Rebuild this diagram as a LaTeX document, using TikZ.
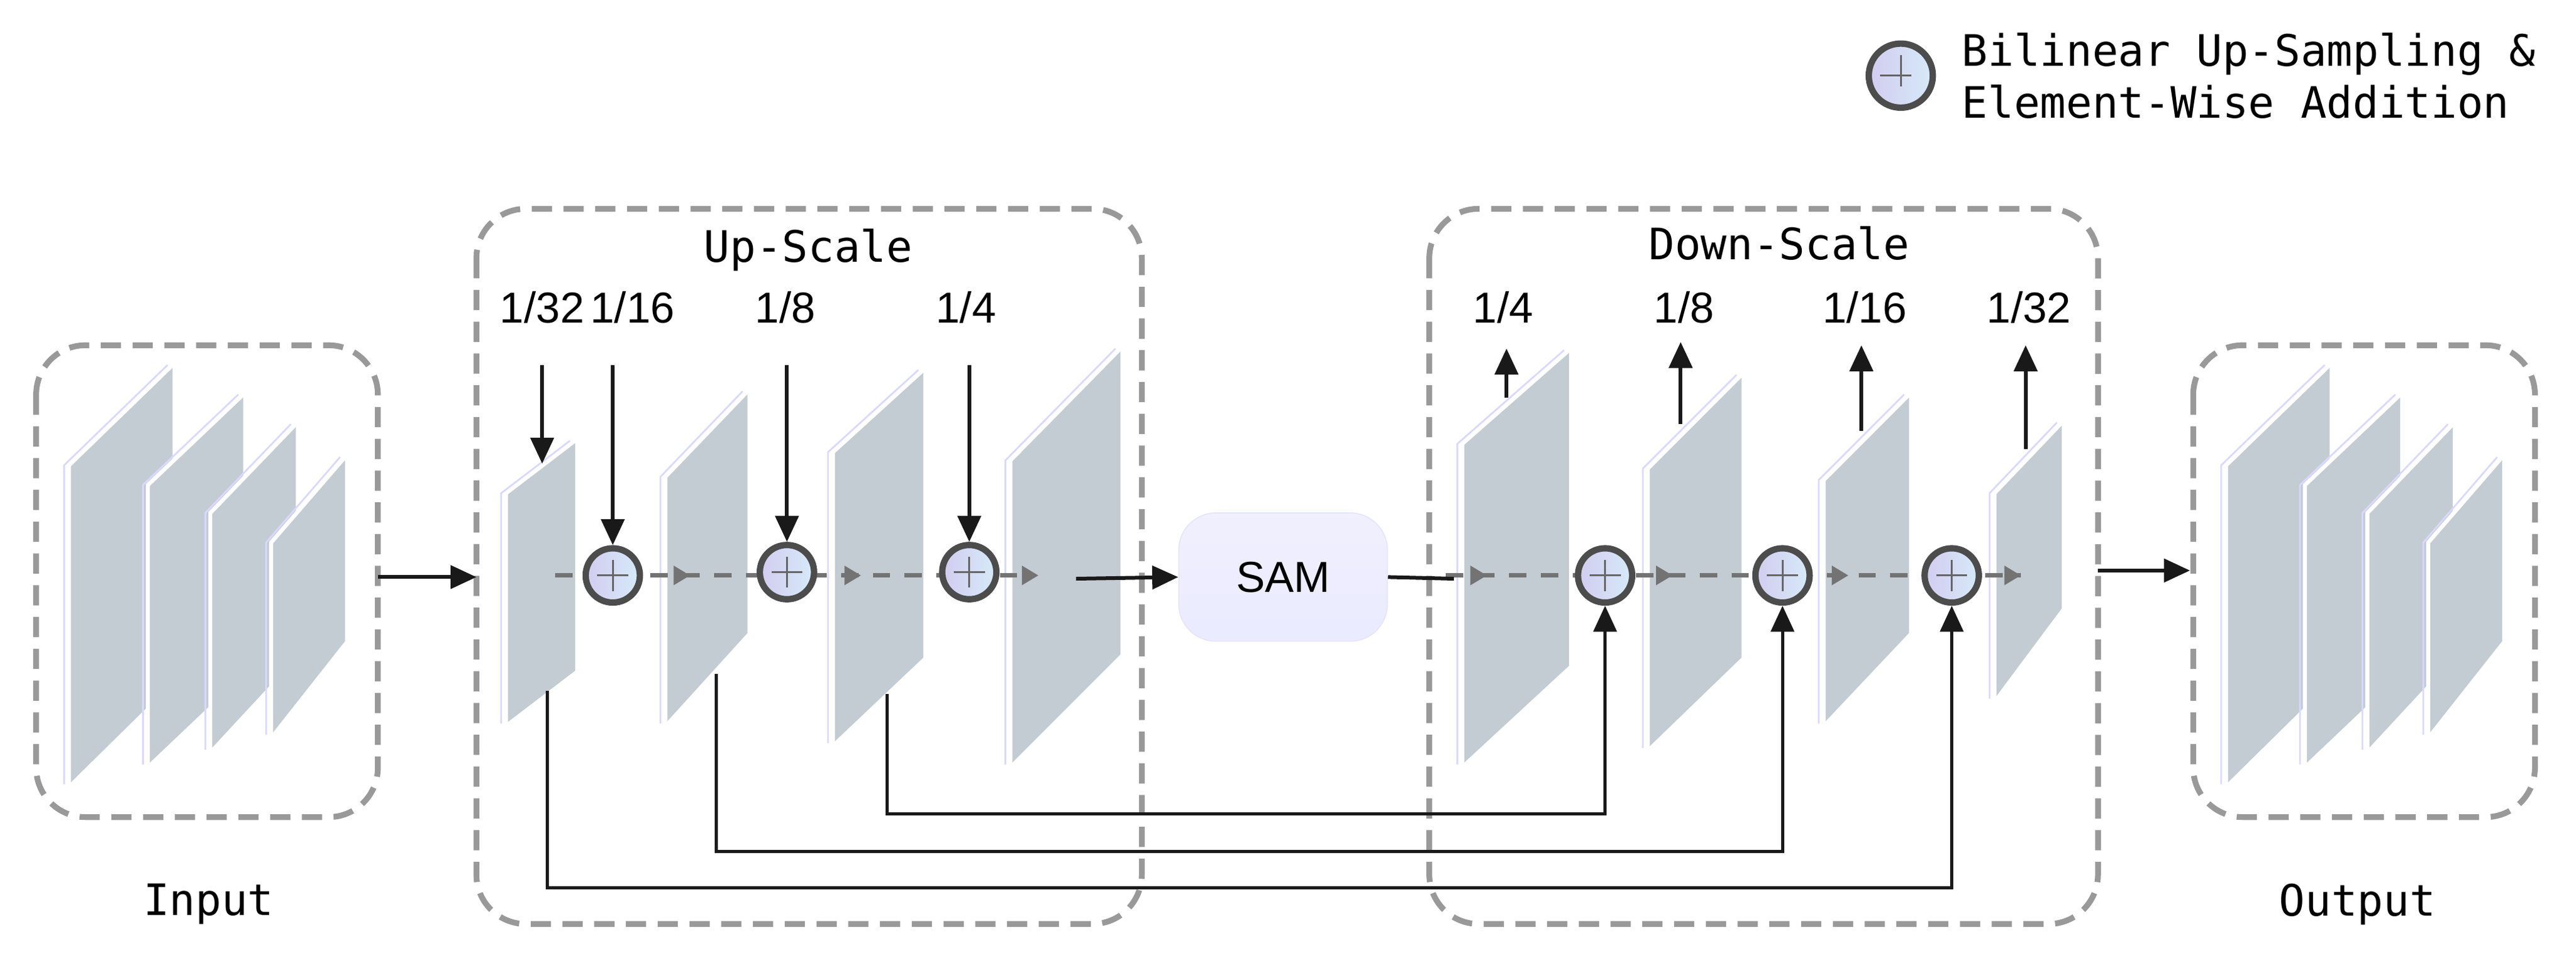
\documentclass[tikz,border=0pt]{standalone}
\usepackage{fontspec}
\setmainfont{Liberation Sans}
\newfontfamily\monof{DejaVu Sans Mono}
\usetikzlibrary{arrows.meta}
\definecolor{panelc}{HTML}{C3CCD2}
\definecolor{boxc}{HTML}{999999}
\definecolor{addl}{HTML}{D2CCF0}
\definecolor{addr}{HTML}{D6EAF8}
\newcommand{\fmap}[6]{%
  \fill[panelc] (#1,#2) -- (#4,#5) -- (#4,#6) -- (#1,#3) -- cycle;
  \draw[white,line width=1.4pt] (#1,#3) -- (#1,#2) -- (#4,#5);
  \draw[blue!15,line width=0.6pt] ($(#1,#3)+(-3,0)$) -- ($(#1,#2)+(-3,0)$) -- ($(#4,#5)+(-3,0)$);}
\usetikzlibrary{calc}
\tikzset{
  x=0.02cm,y=-0.02cm,
  grp/.style={draw=boxc,line width=2pt,dash pattern=on 7pt off 4pt,rounded corners=0.6cm},
  arr/.style={-{Triangle[length=9pt,width=8pt]},line width=1.3pt,black!90},
  skip/.style={-{Triangle[length=9pt,width=8pt]},line width=1.1pt,black!90},
  flow/.style={draw=black!55,line width=1.6pt,dash pattern=on 6pt off 5pt},
  gtip/.style={fill=black!55},
  add/.style={circle,minimum size=0.66cm,inner sep=0pt,draw=black!70,line width=2.2pt,
    left color=addl,right color=addr,
    path picture={\draw[black!60,line width=0.7pt] (path picture bounding box.west) ++(4pt,0) -- ++(0.66cm-8pt,0);
      \draw[black!60,line width=0.7pt] (path picture bounding box.north) ++(0,-4pt) -- ++(0,-0.66cm+8pt);}},
  lab/.style={font=\fontsize{15}{17}\selectfont},
  mlab/.style={font=\monof\fontsize{15}{18}\selectfont},
}
\newcommand{\gtipat}[2]{\fill[black!55] (#1,#2-6) -- (#1+10,#2) -- (#1,#2+6) -- cycle;}
\begin{document}
\begin{tikzpicture}
\useasboundingbox (0,0) rectangle (1568,585);
% groups
\draw[grp] (22,210) rectangle (230,497);
\draw[grp] (290,127) rectangle (695,562);
\draw[grp] (870,127) rectangle (1277,562);
\draw[grp] (1335,210) rectangle (1543,497);
\node[grp,draw=none,minimum width=0pt] (inbox) at (126,353) {};
\node (outbox) at (1439,353) {};
\node[mlab] at (127,550) {Input};
\node[mlab] at (1435,550) {Output};
\node[mlab] at (492,152) {Up-Scale};
\node[mlab] at (1083,148) {Down-Scale};
% input / output panels
\foreach \s in {0,1313}{
\fmap{42+\s}{283}{477}{105+\s}{222}{415}
\fmap{90+\s}{295}{465}{148+\s}{240}{410}
\fmap{128+\s}{312}{456}{180+\s}{258}{400}
\fmap{165+\s}{330}{447}{210+\s}{278}{390}
}
% up panels
\fmap{308}{300}{440}{350}{268}{408}
\fmap{405}{290}{440}{455}{238}{385}
\fmap{507}{275}{452}{562}{225}{400}
\fmap{615}{280}{465}{682}{212}{398}
% down panels
\fmap{890}{270}{465}{955}{213}{405}
\fmap{1003}{285}{455}{1060}{228}{400}
\fmap{1110}{292}{440}{1162}{240}{385}
\fmap{1214}{300}{425}{1255}{257}{370}
% flows
\draw[flow] (338,350) -- (628,350);
\draw[flow] (880,350) -- (1230,350);
\gtipat{410}{350}\gtipat{514}{350}\gtipat{622}{350}
\gtipat{895}{350}\gtipat{1008}{350}\gtipat{1115}{350}\gtipat{1220}{350}
% adds
\node[add] (u1) at (373,350) {};
\node[add] (u2) at (479,348) {};
\node[add] (u3) at (590,348) {};
\node[add] (d1) at (977,350) {};
\node[add] (d2) at (1085,350) {};
\node[add] (d3) at (1188,350) {};
% SAM
\node[draw=none,rounded corners=0.45cm,minimum width=2.54cm,minimum height=1.56cm,
  top color=black!5!blue!6,bottom color=blue!8,draw=blue!10,lab] (sam) at (781,351) {SAM};
% top labels up
\node[lab] (l32) at (330,187) {1/32};
\node[lab] (l16) at (385,187) {1/16};
\node[lab] (l8) at (478,187) {1/8};
\node[lab] (l4) at (588,187) {1/4};
\coordinate (a0) at (330,222); \coordinate (a0e) at (330,282);
\draw[arr] (a0) -- (a0e);
\draw[arr] (373,222) -- (u1.north);
\draw[arr] (479,222) -- (u2.north);
\draw[arr] (590,222) -- (u3.north);
% down labels
\node[lab] at (915,187) {1/4};
\node[lab] at (1025,187) {1/8};
\node[lab] at (1135,187) {1/16};
\node[lab] at (1235,187) {1/32};
\draw[arr] (917,242) -- (917,212);
\draw[arr] (1023,258) -- (1023,208);
\draw[arr] (1133,262) -- (1133,210);
\draw[arr] (1233,273) -- (1233,210);
% main arrows
\coordinate (i1) at (230,351); \coordinate (i2) at (290,351);
\draw[arr] (i1) -- (i2);
\coordinate (s0) at (655,352);
\draw[arr] (s0) -- (sam.west);
\coordinate (s1) at (885,352);
\draw[line width=1.3pt,black!90] (sam.east) -- (s1);
\coordinate (o1) at (1277,347); \coordinate (o2) at (1333,347);
\draw[arr] (o1) -- (o2);
% skips
\coordinate (k1) at (333,420); \coordinate (k2) at (436,410); \coordinate (k3) at (540,422);
\draw[skip] (k1) |- (1188,540) -- (d3.south);
\draw[skip] (k2) |- (1085,518) -- (d2.south);
\draw[skip] (k3) |- (977,495) -- (d1.south);
% legend
\node[add,minimum size=0.78cm] (leg) at (1157,46) {};
\node[mlab,anchor=west,align=left] (legt) at (1188,46) {Bilinear Up-Sampling \&\\Element-Wise Addition};
\end{tikzpicture}
\end{document}
